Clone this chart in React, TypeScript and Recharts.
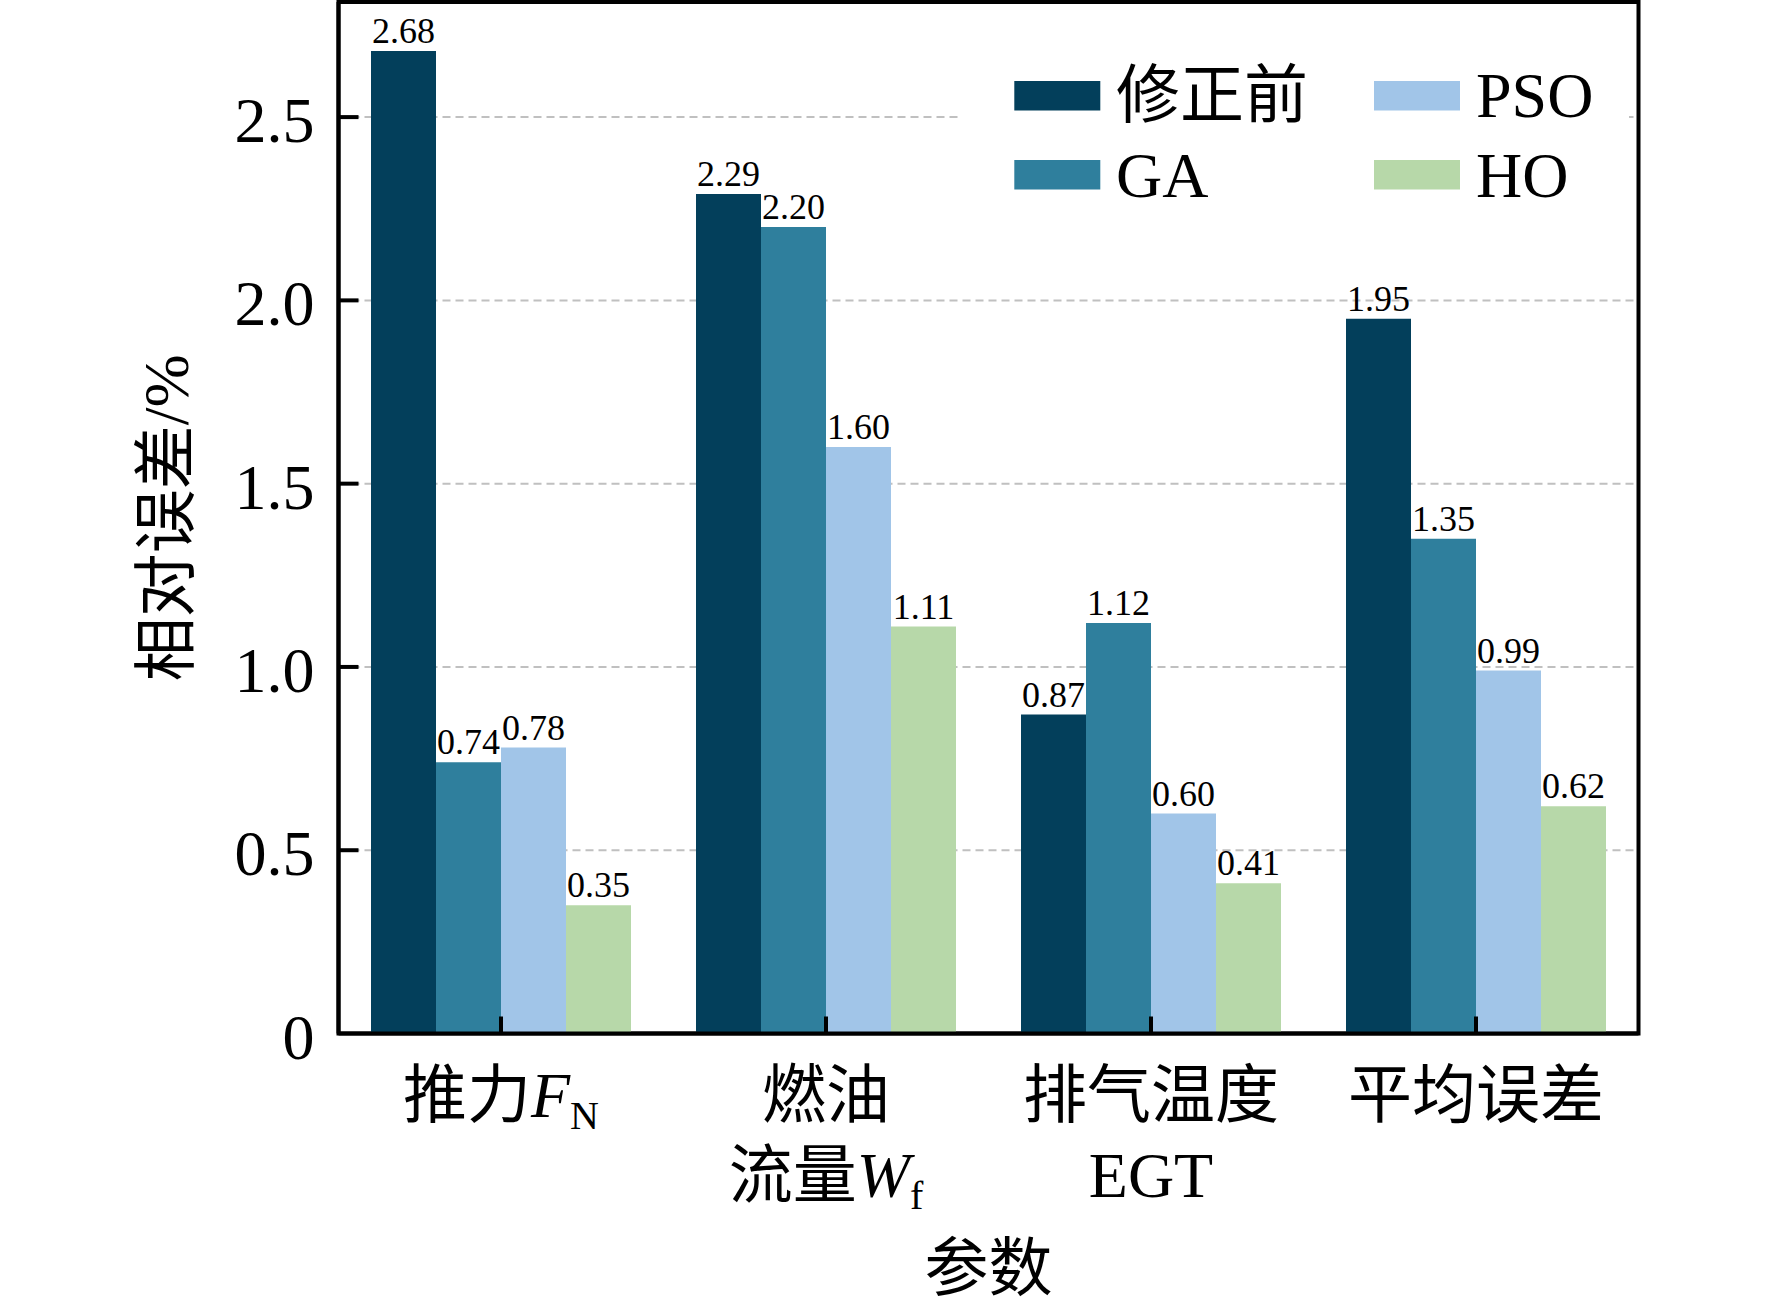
import React from 'react';
import {
  BarChart,
  Bar,
  XAxis,
  YAxis,
  CartesianGrid,
  LabelList,
  Legend,
  ReferenceArea,
  Label,
} from 'recharts';

// ---------- data ----------
const categories = ['推力F_N', '燃油流量W_f', '排气温度EGT', '平均误差'];
const seriesNames = ['修正前', 'GA', 'PSO', 'HO'];
const seriesKeys = ['before', 'ga', 'pso', 'ho'];
const beforeValues = [2.68, 2.29, 0.87, 1.95];
const gaValues = [0.74, 2.2, 1.12, 1.35];
const psoValues = [0.78, 1.6, 0.6, 0.99];
const hoValues = [0.35, 1.11, 0.41, 0.62];
const yTicks = [0, 0.5, 1.0, 1.5, 2.0, 2.5];
const yMax = 2.814;
const yTitle = '相对误差/%';
const xTitle = '参数';

type Seg = { t: string; italic?: boolean; sub?: boolean };
const xTickLines: Seg[][][] = [
  [[{ t: '推力' }, { t: 'F', italic: true }, { t: 'N', sub: true }]],
  [[{ t: '燃油' }], [{ t: '流量' }, { t: 'W', italic: true }, { t: 'f', sub: true }]],
  [[{ t: '排气温度' }], [{ t: 'EGT' }]],
  [[{ t: '平均误差' }]],
];

// ---------- style ----------
const FONT = "'Liberation Serif', 'Times New Roman', 'Noto Sans CJK SC', serif";
const seriesColors = ['#033f5b', '#2f7f9d', '#a1c5e8', '#b7d8a9'];
const BIG = 64;
const SMALL = 36;
const SUB = 40;
const W = 1772;
const H = 1313;

const data = categories.map((c, i) => ({
  name: c,
  before: beforeValues[i],
  ga: gaValues[i],
  pso: psoValues[i],
  ho: hoValues[i],
}));

const Y_TICK_MARGIN = 24;

const YTick = (props: any) => {
  const { x, y, payload } = props;
  const v = payload.value as number;
  const txt = v === 0 ? '0' : v.toFixed(1);
  const ax = x + Y_TICK_MARGIN;
  return (
    <g>
      {v !== 0 && (
        <line x1={ax} x2={ax + 20} y1={y} y2={y} stroke="#000" strokeWidth={4} />
      )}
      <text x={x} y={y + 25} textAnchor="end" fontSize={BIG} fontFamily={FONT} fill="#000">
        {txt}
      </text>
    </g>
  );
};

const XTick = (props: any) => {
  const { x, y, payload } = props;
  const idx = categories.indexOf(payload.value);
  const lines = xTickLines[idx] || [[{ t: String(payload.value) }]];
  return (
    <g>
      <line x1={x} x2={x} y1={y} y2={y - 17} stroke="#000" strokeWidth={4} />
      {lines.map((segs, li) => (
        <text
          key={li}
          x={x}
          y={y + 83.5 + li * 80}
          textAnchor="middle"
          fontSize={BIG}
          fontFamily={FONT}
          fill="#000"
        >
          {segs.map((s, si) => (
            <tspan
              key={si}
              fontStyle={s.italic ? 'italic' : 'normal'}
              fontSize={s.sub ? SUB : BIG}
              dy={s.sub ? 12 : 0}
            >
              {s.t}
            </tspan>
          ))}
        </text>
      ))}
    </g>
  );
};

const YTitle = (props: any) => {
  const vb = props.viewBox || { x: 0, y: 0, width: 338.5, height: 1031.5 };
  const cx = vb.x + 166;
  const cy = vb.y + vb.height / 2;
  return (
    <text
      x={cx}
      y={cy}
      transform={`rotate(-90 ${cx} ${cy})`}
      textAnchor="middle"
      dominantBaseline="central"
      fontSize={BIG}
      fontFamily={FONT}
      fill="#000"
    >
      {yTitle}
    </text>
  );
};

const XTitle = (props: any) => {
  const vb = props.viewBox || { x: 338.5, y: 1033.5, width: 1300, height: 279.5 };
  const cx = vb.x + vb.width / 2;
  const by = vb.y + vb.height - 23;
  return (
    <text x={cx} y={by} textAnchor="middle" fontSize={BIG} fontFamily={FONT} fill="#000">
      {xTitle}
    </text>
  );
};

const LEG_W = 667;
const LEG_H = 210;

const renderLegend = (props: any) => {
  const payload = props.payload || [];
  return (
    <svg width={LEG_W} height={LEG_H} style={{ display: 'block' }}>
      <rect x={0} y={0} width={LEG_W} height={LEG_H} fill="#fff" />
      {payload.map((p: any) => {
        const i = seriesNames.indexOf(p.value);
        if (i < 0) return null;
        const col = Math.floor(i / 2);
        const row = i % 2;
        const sx = col === 0 ? 52.3 : 412;
        const tx = col === 0 ? 154 : 514;
        const sy = row === 0 ? 61 : 140;
        const by = row === 0 ? 97 : 176.5;
        return (
          <g key={p.value}>
            <rect x={sx} y={sy} width={86} height={29.5} fill={seriesColors[i]} />
            <text x={tx} y={by} fontSize={BIG} fontFamily={FONT} fill="#000">
              {p.value}
            </text>
          </g>
        );
      })}
    </svg>
  );
};

const fmt2 = (v: any) => Number(v).toFixed(2);

export default function App() {
  return (
    <div style={{ position: 'absolute', left: 0, top: 0, width: W, height: H, background: '#fff' }}>
      <BarChart
        width={W}
        height={H}
        data={data}
        margin={{ top: 2, right: 133.5, bottom: 0, left: 0 }}
        barCategoryGap="10%"
        barGap={0}
      >
        <CartesianGrid
          vertical={false}
          stroke="#c0c0c0"
          strokeDasharray="8 5"
          strokeWidth={2}
        />
        {seriesKeys.map((k, i) => (
          <Bar
            key={k}
            dataKey={k}
            name={seriesNames[i]}
            fill={seriesColors[i]}
            isAnimationActive={false}
          >
            <LabelList
              dataKey={k}
              position="top"
              offset={8}
              formatter={fmt2}
              fontSize={SMALL}
              fontFamily={FONT}
              fill="#000"
              style={{ fill: '#000' }}
            />
          </Bar>
        ))}
        <XAxis
          dataKey="name"
          height={279.5}
          tickSize={0}
          tickMargin={0}
          tickLine={false}
          interval={0}
          tick={(p: any) => <XTick {...p} />}
          axisLine={{ stroke: '#000', strokeWidth: 4 }}
          label={<Label content={XTitle} />}
        />
        <YAxis
          type="number"
          width={338.5}
          domain={[0, yMax]}
          allowDataOverflow
          ticks={yTicks}
          interval={0}
          tickSize={0}
          tickMargin={Y_TICK_MARGIN}
          tickLine={false}
          tick={(p: any) => <YTick {...p} />}
          axisLine={{ stroke: '#000', strokeWidth: 4 }}
          label={<Label content={YTitle} />}
        />
        <ReferenceArea
          y1={0}
          y2={yMax}
          fill="none"
          fillOpacity={0}
          stroke="#000"
          strokeWidth={4}
          ifOverflow="visible"
        />
        <Legend
          layout="horizontal"
          verticalAlign="middle"
          align="center"
          content={renderLegend}
          wrapperStyle={{ left: 962, top: 20, width: LEG_W, height: LEG_H }}
        />
      </BarChart>
    </div>
  );
}
